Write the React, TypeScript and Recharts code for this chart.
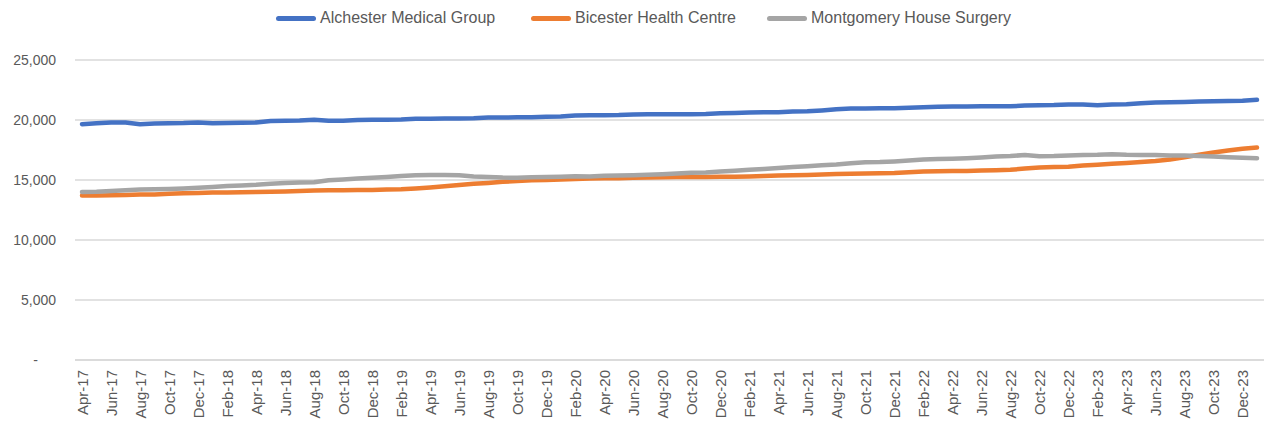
import { LineChart, Line, XAxis, YAxis, CartesianGrid } from "recharts"

const months = [
  "Apr-17", "May-17", "Jun-17", "Jul-17", "Aug-17", "Sep-17", "Oct-17", "Nov-17", "Dec-17",
  "Jan-18", "Feb-18", "Mar-18", "Apr-18", "May-18", "Jun-18", "Jul-18", "Aug-18", "Sep-18", "Oct-18", "Nov-18", "Dec-18",
  "Jan-19", "Feb-19", "Mar-19", "Apr-19", "May-19", "Jun-19", "Jul-19", "Aug-19", "Sep-19", "Oct-19", "Nov-19", "Dec-19",
  "Jan-20", "Feb-20", "Mar-20", "Apr-20", "May-20", "Jun-20", "Jul-20", "Aug-20", "Sep-20", "Oct-20", "Nov-20", "Dec-20",
  "Jan-21", "Feb-21", "Mar-21", "Apr-21", "May-21", "Jun-21", "Jul-21", "Aug-21", "Sep-21", "Oct-21", "Nov-21", "Dec-21",
  "Jan-22", "Feb-22", "Mar-22", "Apr-22", "May-22", "Jun-22", "Jul-22", "Aug-22", "Sep-22", "Oct-22", "Nov-22", "Dec-22",
  "Jan-23", "Feb-23", "Mar-23", "Apr-23", "May-23", "Jun-23", "Jul-23", "Aug-23", "Sep-23", "Oct-23", "Nov-23", "Dec-23",
  "Jan-24",
]

const alchester = [
  19650, 19720, 19800, 19800, 19650, 19700, 19720, 19740, 19800,
  19720, 19760, 19780, 19800, 19920, 19940, 19950, 20020, 19930, 19940, 20000, 20020,
  20030, 20050, 20100, 20110, 20120, 20130, 20150, 20200, 20210, 20220, 20230, 20280,
  20300, 20380, 20390, 20400, 20410, 20460, 20470, 20480, 20480, 20480, 20500, 20560,
  20580, 20620, 20640, 20650, 20700, 20720, 20800, 20900, 20950, 20960, 20970, 20980,
  21020, 21060, 21100, 21120, 21130, 21140, 21150, 21150, 21200, 21220, 21240, 21300,
  21300, 21220, 21300, 21320, 21400, 21460, 21480, 21500, 21540, 21560, 21580, 21600,
  21680,
]

const bicester = [
  13700, 13700, 13720, 13760, 13800, 13800, 13850, 13900, 13920,
  13950, 13960, 13980, 14000, 14020, 14050, 14080, 14120, 14150, 14150, 14160, 14170,
  14200, 14220, 14300, 14380, 14480, 14580, 14680, 14760, 14850, 14920, 14980, 15000,
  15050, 15080, 15120, 15150, 15150, 15180, 15200, 15220, 15240, 15250, 15260, 15270,
  15280, 15300, 15330, 15380, 15400, 15420, 15450, 15500, 15530, 15550, 15560, 15580,
  15640, 15700, 15720, 15740, 15760, 15800, 15820, 15850, 15950, 16050, 16080, 16100,
  16200, 16280, 16350, 16420, 16500, 16580, 16700, 16900, 17100, 17300, 17450, 17600,
  17700,
]

const montgomery = [
  14000, 14020, 14080, 14150, 14200, 14230, 14260, 14300, 14350,
  14420, 14500, 14550, 14600, 14680, 14750, 14800, 14820, 14980, 15050, 15120, 15180,
  15250, 15330, 15400, 15420, 15420, 15400, 15300, 15250, 15200, 15180, 15220, 15250,
  15280, 15320, 15300, 15350, 15380, 15400, 15430, 15480, 15550, 15600, 15620, 15700,
  15780, 15850, 15920, 16000, 16080, 16150, 16230, 16300, 16400, 16480, 16500, 16550,
  16620, 16700, 16750, 16780, 16820, 16880, 16950, 17000, 17080, 16980, 17000, 17050,
  17080, 17100, 17150, 17100, 17080, 17080, 17050, 17050, 17000, 16950, 16900, 16850,
  16820,
]

const yTicks = [0, 5000, 10000, 15000, 20000, 25000]

const series = [
  { key: "alchester", name: "Alchester Medical Group", color: "#4472C4", legendX: 276 },
  { key: "bicester", name: "Bicester Health Centre", color: "#ED7D31", legendX: 531 },
  { key: "montgomery", name: "Montgomery House Surgery", color: "#A5A5A5", legendX: 767 },
]

const data = months.map((month, i) => ({
  month,
  alchester: alchester[i],
  bicester: bicester[i],
  montgomery: montgomery[i],
}))

const labelFont = "'Liberation Sans', Arial, sans-serif"

function YTick(props: any) {
  const { y, payload } = props
  const v = payload.value
  return (
    <text x={v === 0 ? 38 : 56} y={y} dy={5} textAnchor="end" fill="#595959" fontSize={14} fontFamily={labelFont}>
      {v === 0 ? "-" : v.toLocaleString("en-US")}
    </text>
  )
}

export default function App() {
  return (
    <div style={{ position: "absolute", left: 0, top: 0, width: 1269, height: 435, background: "#fff" }}>
      {series.map((s) => (
        <div
          key={s.key}
          style={{ position: "absolute", top: 6, left: s.legendX, display: "flex", alignItems: "center", height: 24 }}
        >
          <span style={{ display: "inline-block", width: 40, height: 5, borderRadius: 3, background: s.color }} />
          <span style={{ marginLeft: 4, fontFamily: labelFont, fontSize: 16, color: "#595959" }}>{s.name}</span>
        </div>
      ))}
      <LineChart width={1269} height={435} data={data} margin={{ top: 60, right: 5, bottom: 0, left: 0 }}>
        <CartesianGrid vertical={false} stroke="#D9D9D9" strokeWidth={1.5} />
        <XAxis
          dataKey="month"
          interval={1}
          height={75}
          padding={{ left: 7, right: 7 }}
          tickLine={false}
          axisLine={{ stroke: "#D9D9D9", strokeWidth: 1.5 }}
          angle={-90}
          textAnchor="end"
          dx={-5}
          dy={2}
          tick={{ fill: "#595959", fontSize: 15, fontFamily: labelFont }}
        />
        <YAxis
          width={75}
          domain={[0, 25000]}
          ticks={yTicks}
          axisLine={false}
          tickLine={false}
          tick={<YTick />}
        />
        {series.map((s) => (
          <Line
            key={s.key}
            type="linear"
            dataKey={s.key}
            name={s.name}
            stroke={s.color}
            strokeWidth={4.5}
            strokeLinecap="round"
            strokeLinejoin="round"
            dot={false}
            isAnimationActive={false}
          />
        ))}
      </LineChart>
    </div>
  )
}
